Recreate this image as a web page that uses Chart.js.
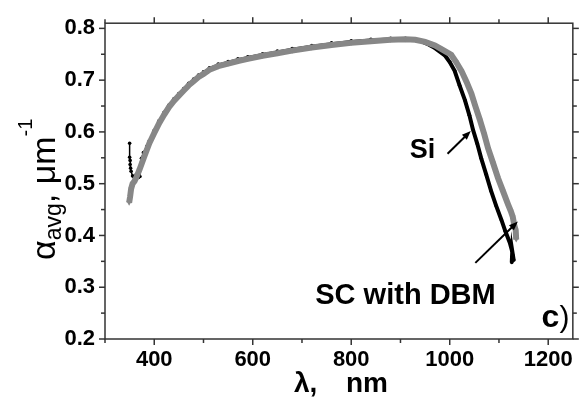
<!DOCTYPE html>
<html>
<head>
<meta charset="utf-8">
<script src="https://cdn.jsdelivr.net/npm/chart.js@4.4.0/dist/chart.umd.min.js"></script>
<style>
  html, body { margin: 0; padding: 0; background: #fff; }
  canvas { display: block; }
</style>
</head>
<body>
<canvas id="chart" width="581" height="403"></canvas>
<script>
// averaged absorption coefficient vs wavelength (Si and SC with DBM)
const siWavelength = [350, 350, 351, 351, 352, 353, 356, 360, 363, 368, 371, 374, 378, 385, 390, 400, 410, 420, 430, 440,
  450, 460, 470, 480, 490, 500, 512, 530, 550, 570, 590, 620, 650, 680, 720, 760, 800, 840, 880, 910,
  930, 945, 957, 970, 990, 1000, 1010, 1020, 1031, 1040, 1047, 1056, 1064, 1074, 1084, 1094, 1105, 1113, 1122, 1126,
  1128, 1130, 1127, 1126];
const siAlpha = [0.578, 0.551, 0.545, 0.537, 0.530, 0.524, 0.515, 0.506, 0.517, 0.512, 0.514, 0.549, 0.560, 0.572, 0.583, 0.603, 0.622, 0.638, 0.652, 0.664,
  0.674, 0.684, 0.694, 0.702, 0.710, 0.716, 0.724, 0.731, 0.736, 0.741, 0.745, 0.751, 0.756, 0.761, 0.767, 0.772, 0.776, 0.779, 0.781, 0.781,
  0.778, 0.774, 0.769, 0.762, 0.748, 0.735, 0.718, 0.690, 0.661, 0.632, 0.605, 0.577, 0.549, 0.518, 0.486, 0.458, 0.430, 0.408, 0.386, 0.372,
  0.362, 0.352, 0.370, 0.348];

const scWavelength = [349, 351, 353, 356, 360, 365, 370, 375, 380, 390, 400, 410, 420, 430, 440, 450, 460, 470, 480, 490,
  500, 512, 530, 550, 570, 590, 620, 650, 680, 720, 760, 800, 840, 880, 910, 930, 950, 970, 985, 1003,
  1013, 1024, 1034, 1044, 1052, 1061, 1070, 1078, 1088, 1098, 1108, 1118, 1124, 1128, 1131, 1134, 1135];
const scAlpha = [0.463, 0.475, 0.490, 0.500, 0.505, 0.515, 0.527, 0.540, 0.553, 0.578, 0.598, 0.617, 0.633, 0.648, 0.660, 0.670, 0.680, 0.690, 0.698, 0.706,
  0.712, 0.720, 0.727, 0.732, 0.737, 0.741, 0.747, 0.752, 0.757, 0.763, 0.768, 0.772, 0.775, 0.778, 0.779, 0.778, 0.774, 0.767, 0.759, 0.749,
  0.735, 0.7175, 0.697, 0.674, 0.650, 0.624, 0.596, 0.568, 0.540, 0.511, 0.486, 0.461, 0.447, 0.436, 0.420, 0.410, 0.392];

const xTickLabels = [400, 600, 800, 1000, 1200];
const xMinorTicks = [300, 500, 700, 900, 1100];
const yTickLabels = ['0.2', '0.3', '0.4', '0.5', '0.6', '0.7', '0.8'];
const yMinorTicks = [0.25, 0.35, 0.45, 0.55, 0.65, 0.75];

const toPoints = (xs, ys) => xs.map((v, i) => ({ x: v, y: ys[i] }));

function arrow(ctx, x0, y0, x1, y1) {
  const ang = Math.atan2(y1 - y0, x1 - x0);
  const len = 9, half = 3.5;
  ctx.beginPath();
  ctx.moveTo(x0, y0);
  ctx.lineTo(x1 - Math.cos(ang) * len * 0.8, y1 - Math.sin(ang) * len * 0.8);
  ctx.stroke();
  ctx.beginPath();
  ctx.moveTo(x1, y1);
  ctx.lineTo(x1 - Math.cos(ang) * len - Math.sin(ang) * half, y1 - Math.sin(ang) * len + Math.cos(ang) * half);
  ctx.lineTo(x1 - Math.cos(ang) * len + Math.sin(ang) * half, y1 - Math.sin(ang) * len - Math.cos(ang) * half);
  ctx.closePath();
  ctx.fill();
}

// box, ticks, axis titles and labels
const decorPlugin = {
  id: 'decor',
  afterDraw(chart) {
    const { ctx, chartArea: a, scales: { x, y } } = chart;
    ctx.save();
    ctx.strokeStyle = '#333';
    ctx.lineWidth = 1.5;
    ctx.strokeRect(a.left, a.top, a.right - a.left, a.bottom - a.top);
    const seg = (x1, y1, x2, y2) => { ctx.beginPath(); ctx.moveTo(x1, y1); ctx.lineTo(x2, y2); ctx.stroke(); };
    xTickLabels.forEach(v => { const p = x.getPixelForValue(v); seg(p, a.bottom, p, a.bottom + 6); seg(p, a.top, p, a.top - 6); });
    xMinorTicks.forEach(v => { const p = x.getPixelForValue(v); seg(p, a.bottom, p, a.bottom + 4); seg(p, a.top, p, a.top - 4); });
    yTickLabels.forEach(v => { const p = y.getPixelForValue(parseFloat(v)); seg(a.left, p, a.left - 6, p); seg(a.right, p, a.right + 6, p); });
    yMinorTicks.forEach(v => { const p = y.getPixelForValue(v); seg(a.left, p, a.left - 4, p); seg(a.right, p, a.right + 4, p); });

    ctx.fillStyle = '#000';
    ctx.textBaseline = 'alphabetic';
    ctx.textAlign = 'left';
    // x title
    ctx.font = 'bold 28px "Liberation Sans", Arial, sans-serif';
    ctx.fillText('λ,', 294, 392);
    ctx.fillText('nm', 346, 392);

    // y title, rotated, with subscript and superscript
    ctx.save();
    ctx.translate(55, 260);
    ctx.rotate(-Math.PI / 2);
    let cx = 0;
    const part = (txt, font, dy) => { ctx.font = font; ctx.fillText(txt, cx, dy); cx += ctx.measureText(txt).width; };
    part('α', '34px "Liberation Sans", Arial, sans-serif', 0);
    part('avg', '23px "Liberation Sans", Arial, sans-serif', 6);
    part(', ', '34px "Liberation Sans", Arial, sans-serif', 0);
    part('μm', '34px "Liberation Sans", Arial, sans-serif', 0);
    part('-1', '20px "Liberation Sans", Arial, sans-serif', -23);
    ctx.restore();

    // annotations
    ctx.font = 'bold 27px "Liberation Sans", Arial, sans-serif';
    ctx.fillText('Si', x.getPixelForValue(919), y.getPixelForValue(0.549));
    ctx.font = 'bold 29px "Liberation Sans", Arial, sans-serif';
    ctx.fillText('SC with DBM', x.getPixelForValue(727), y.getPixelForValue(0.2675));
    ctx.textAlign = 'right';
    ctx.font = '30px "Liberation Sans", Arial, sans-serif';
    const rx = x.getPixelForValue(1243), ry = y.getPixelForValue(0.223);
    ctx.fillText(')', rx, ry);
    const pw = ctx.measureText(')').width;
    ctx.font = 'bold 32px "Liberation Sans", Arial, sans-serif';
    ctx.fillText('c', rx - pw, ry);

    ctx.strokeStyle = '#000';
    ctx.lineWidth = 2;
    arrow(ctx, x.getPixelForValue(995.6), y.getPixelForValue(0.558), x.getPixelForValue(1042.8), y.getPixelForValue(0.602));
    arrow(ctx, x.getPixelForValue(1052), y.getPixelForValue(0.347), x.getPixelForValue(1138.4), y.getPixelForValue(0.427));
    ctx.restore();
  }
};

new Chart(document.getElementById('chart'), {
  type: 'scatter',
  data: {
    datasets: [
      {
        label: 'SC with DBM',
        data: toPoints(scWavelength, scAlpha),
        showLine: true,
        borderColor: '#878787',
        backgroundColor: '#878787',
        borderWidth: 6,
        pointStyle: 'triangle',
        rotation: 180,
        pointRadius: 3,
        pointBorderWidth: 0,
        order: 0
      },
      {
        label: 'Si',
        data: toPoints(siWavelength, siAlpha),
        showLine: true,
        borderColor: '#000',
        backgroundColor: '#000',
        borderWidth: 2,
        segment: { borderWidth: c => c.p0.parsed.x > 930 ? 4 : 1.5 },
        pointRadius: 1.8,
        pointBorderWidth: 0,
        order: 1
      }
    ]
  },
  options: {
    responsive: false,
    animation: false,
    layout: { padding: { left: 0, right: 6, top: 14, bottom: 0 } },
    plugins: { legend: { display: false }, tooltip: { enabled: false } },
    scales: {
      x: {
        type: 'linear',
        min: 300,
        max: 1250,
        afterFit: s => { s.height = 64; },
        grid: { display: false, drawTicks: false },
        border: { display: false },
        ticks: {
          stepSize: 100,
          includeBounds: false,
          autoSkip: false,
          maxRotation: 0,
          minRotation: 0,
          padding: 8,
          color: '#000',
          font: { family: '"Liberation Sans", Arial, sans-serif', size: 22, weight: 'bold' },
          callback: v => xTickLabels.includes(Math.round(v)) ? String(Math.round(v)) : ''
        }
      },
      y: {
        min: 0.2,
        max: 0.81,
        afterFit: s => { s.width = 105; },
        grid: { display: false, drawTicks: false },
        border: { display: false },
        ticks: {
          stepSize: 0.1,
          includeBounds: false,
          autoSkip: false,
          padding: 10,
          color: '#000',
          font: { family: '"Liberation Sans", Arial, sans-serif', size: 22, weight: 'bold' },
          callback: v => yTickLabels.includes(v.toFixed(1)) ? v.toFixed(1) : ''
        }
      }
    }
  },
  plugins: [decorPlugin]
});
</script>
</body>
</html>
